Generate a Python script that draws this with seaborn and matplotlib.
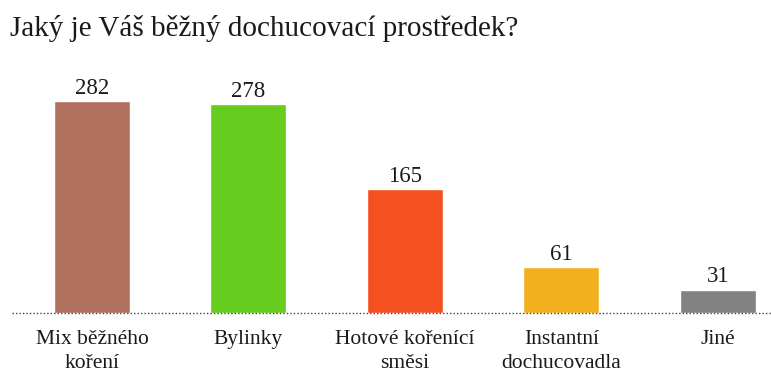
import matplotlib
matplotlib.use("Agg")
import matplotlib.pyplot as plt
import seaborn as sns
import pandas as pd

categories = ["Mix běžného\nkoření", "Bylinky", "Hotové kořenící\nsměsi", "Instantní\ndochucovadla", "Jiné"]
values = [282, 278, 165, 61, 31]
colors = ["#B0705E", "#66CC1E", "#F45020", "#F2B01E", "#828282"]
title = "Jaký je Váš běžný dochucovací prostředek?"

sns.set_theme(style="white")
plt.rcParams["font.family"] = ["Liberation Serif", "DejaVu Serif"]

df = pd.DataFrame({"cat": categories, "val": values})

fig = plt.figure(figsize=(7.71, 3.76), dpi=100)
ax = fig.add_axes([12/771, 63/376, 759/771, 253/376])
sns.barplot(data=df, x="cat", y="val", hue="cat", palette=colors, legend=False,
            width=0.486, ax=ax, saturation=1)

ax.set_xlim(-0.511, 4.339)
ax.set_ylim(0, 336.4)
for s in ["top", "right", "left", "bottom"]:
    ax.spines[s].set_visible(False)
ax.axhline(0, color="#444444", linestyle=(0, (1, 1.5)), linewidth=1.0, clip_on=False)
ax.set_yticks([])
ax.set_xlabel("")
ax.set_ylabel("")
ax.tick_params(axis="x", length=0, pad=12, labelsize=15.5, colors="#1a1a1a")
for lab in ax.get_xticklabels():
    lab.set_linespacing(1.35)

for i, v in enumerate(values):
    ax.text(i, v + 3, str(v), ha="center", va="bottom", fontsize=16.5, color="#1a1a1a")

fig.text(10/771, 1 - 28/376, title, ha="left", va="center", fontsize=21, color="#1a1a1a")

fig.savefig("out.png", dpi=100)
